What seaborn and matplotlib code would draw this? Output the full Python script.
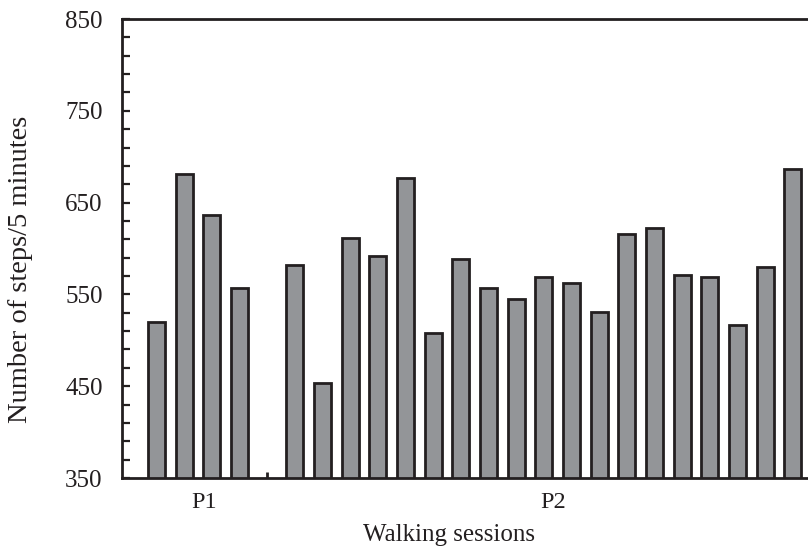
import matplotlib
matplotlib.use("Agg")
import matplotlib.pyplot as plt
import seaborn as sns
import pandas as pd
from matplotlib.ticker import FixedLocator

# ---- data ----
groups = ["P1", "P2"]
p1_steps = [520, 681, 636, 557]
p2_steps = [582, 453, 612, 592, 677, 508, 589, 557, 545, 569, 562, 531,
            616, 622, 571, 569, 517, 580, 687]
y_major = [350, 450, 550, 650, 750, 850]
y_minor = list(range(350, 851, 20))

p1_sessions = [f"P1-{i + 1}" for i in range(len(p1_steps))]
p2_sessions = [f"P2-{i + 1}" for i in range(len(p2_steps))]
gap = "gap"
order = p1_sessions + [gap] + p2_sessions

df = pd.DataFrame({
    "session": p1_sessions + p2_sessions,
    "steps": p1_steps + p2_steps,
    "group": ["P1"] * len(p1_steps) + ["P2"] * len(p2_steps),
})

sns.set_style("ticks")
plt.rcParams['font.family'] = ['Liberation Serif', 'DejaVu Serif']

dark = "#231f20"
fig = plt.figure(figsize=(8.08, 5.53), dpi=100)
ax = fig.add_axes([0.151, 0.1356, 0.849, 0.830])

sns.barplot(data=df, x="session", y="steps", order=order, color="#939598",
            saturation=1, edgecolor=dark, linewidth=2, width=0.62,
            errorbar=None, ax=ax)

ax.set_ylim(350, 850)
ax.set_xlim(-1.25, 23.55)

ax.yaxis.set_major_locator(FixedLocator(y_major))
ax.yaxis.set_minor_locator(FixedLocator(y_minor))
ax.tick_params(axis="y", which="both", direction="in", length=6, width=1.6,
               color=dark, labelsize=18, pad=14, labelcolor=dark)

p1_center = (len(p1_steps) - 1) / 2 + 0.2
p2_center = len(p1_steps) + 1 + (len(p2_steps) - 1) / 2 + 0.35
ax.set_xticks([p1_center, p2_center], labels=groups)
ax.xaxis.set_minor_locator(FixedLocator([order.index(gap)]))
ax.tick_params(axis="x", which="major", length=0, labelsize=17.5, pad=10,
               labelcolor=dark)
ax.tick_params(axis="x", which="minor", direction="in", length=4, width=2,
               color=dark)

for side in ["left", "top", "bottom"]:
    ax.spines[side].set_linewidth(2)
    ax.spines[side].set_color(dark)
ax.spines["right"].set_visible(False)

ax.set_ylabel("Number of steps/5 minutes", fontsize=20.5, color=dark)
ax.set_xlabel("Walking sessions", fontsize=18, color=dark)
ax.yaxis.set_label_coords(-0.13, 0.454)
ax.xaxis.set_label_coords(0.477, -0.10)

fig.savefig("out.png", dpi=100)
